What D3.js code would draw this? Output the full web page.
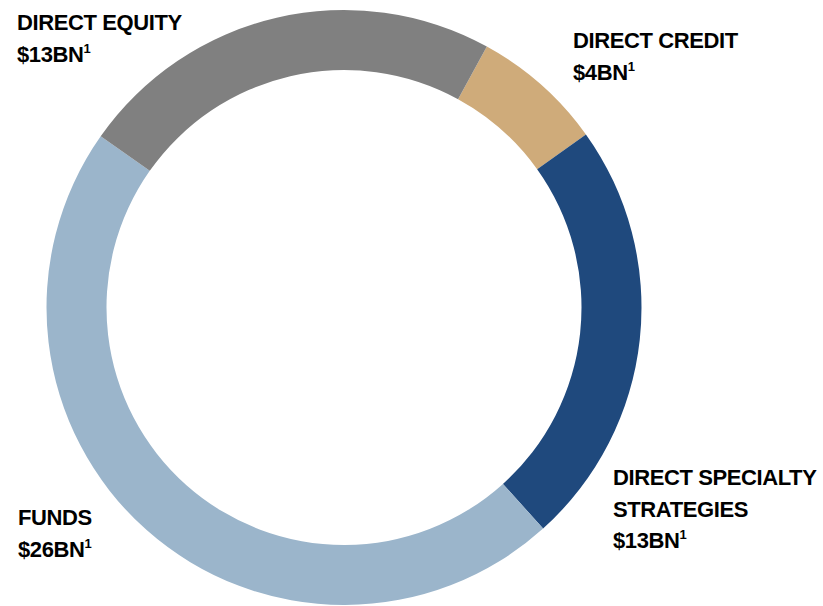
<!DOCTYPE html>
<html><head><meta charset="utf-8">
<script src="https://cdn.jsdelivr.net/npm/d3@7"></script>
<style>
html,body{margin:0;padding:0;background:#fff;}
svg{display:block;}
text{font-family:"Liberation Sans",Arial,sans-serif;font-weight:bold;fill:#000;}
</style></head>
<body><svg id="c" width="823" height="606"></svg>
<script>
const categories = ["DIRECT CREDIT", "DIRECT SPECIALTY STRATEGIES", "FUNDS", "DIRECT EQUITY"];
const values = [4, 13, 26, 13];
const valueLabels = ["$4BN", "$13BN", "$26BN", "$13BN"];
const labelLines = [["DIRECT CREDIT"], ["DIRECT SPECIALTY", "STRATEGIES"], ["FUNDS"], ["DIRECT EQUITY"]];
const colors = ["#CFAB7A", "#1F497D", "#9BB5CB", "#808080"];

const svg = d3.select("#c");
const cx = 344, cy = 307.5, rOuter = 297.5, rInner = 237.5;
const start = 28.7 * Math.PI / 180;

const pie = d3.pie().sort(null).value(d => d).startAngle(start).endAngle(start + 2 * Math.PI);
const arc = d3.arc().innerRadius(rInner).outerRadius(rOuter);

const g = svg.append("g").attr("transform", `translate(${cx},${cy})`);
g.selectAll("path").data(pie(values)).join("path")
  .attr("d", arc)
  .attr("fill", (d, i) => colors[i]);

// label anchor positions (top-left baseline of first line)
const labelPos = [[573, 48], [613, 485], [18, 525], [17, 30]];
const lineH = 31.5;
const fs = 22;

categories.forEach((c, i) => {
  const [x, y] = labelPos[i];
  const t = svg.append("text").attr("x", x).attr("y", y).style("font-size", fs + "px").style("letter-spacing", "-0.4px");
  labelLines[i].forEach((ln, j) => {
    t.append("tspan").attr("x", x).attr("y", y + j * lineH).text(ln);
  });
  const vy = y + labelLines[i].length * lineH;
  const vt = svg.append("text").attr("x", x).attr("y", vy).style("font-size", fs + "px").style("letter-spacing", "-0.4px");
  vt.append("tspan").text(valueLabels[i]);
  vt.append("tspan").attr("dy", -9).style("font-size", "13px").text("1");
});
</script></body></html>
